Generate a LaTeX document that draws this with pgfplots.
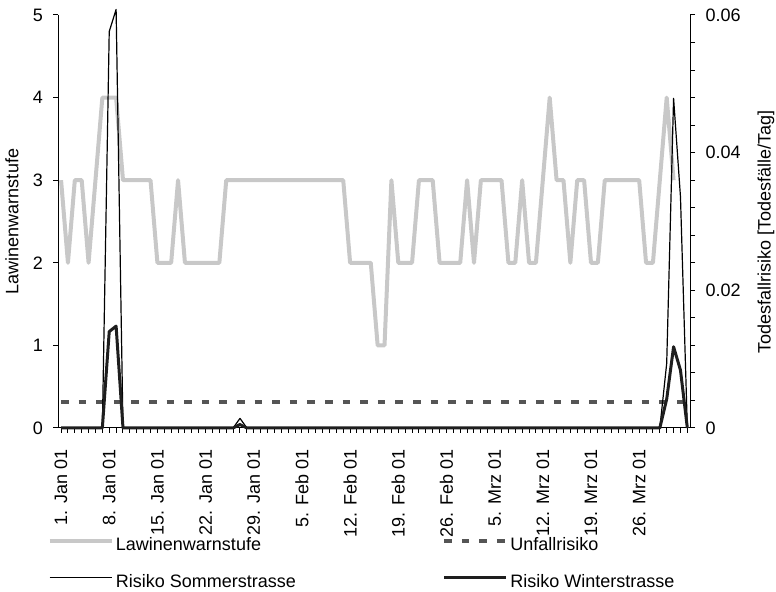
\documentclass[border=0pt]{standalone}
\usepackage{fontspec}
\setmainfont{Liberation Sans}
\usepackage{pgfplots}
\pgfplotsset{compat=1.18}
\usepackage{pgfplotstable}

\definecolor{lwsgray}{RGB}{200,200,200}
\definecolor{dashgray}{RGB}{85,85,85}
\definecolor{thickblk}{RGB}{30,30,30}

\pgfplotstableread{
i lws
0 3
1 2
2 3
3 3
4 2
5 3
6 4
7 4
8 4
9 3
10 3
11 3
12 3
13 3
14 2
15 2
16 2
17 3
18 2
19 2
20 2
21 2
22 2
23 2
24 3
25 3
26 3
27 3
28 3
29 3
30 3
31 3
32 3
33 3
34 3
35 3
36 3
37 3
38 3
39 3
40 3
41 3
42 2
43 2
44 2
45 2
46 1
47 1
48 3
49 2
50 2
51 2
52 3
53 3
54 3
55 2
56 2
57 2
58 2
59 3
60 2
61 3
62 3
63 3
64 3
65 2
66 2
67 3
68 2
69 2
70 3
71 4
72 3
73 3
74 2
75 3
76 3
77 2
78 2
79 3
80 3
81 3
82 3
83 3
84 3
85 2
86 2
87 3
88 4
89 3
}\lwsdata

\pgfplotstableread{
i sommer winter
0 0 0
1 0 0
2 0 0
3 0 0
4 0 0
5 0 0
6 0 0
7 0.0576 0.0140
8 0.0608 0.0148
9 0 0
10 0 0
11 0 0
12 0 0
13 0 0
14 0 0
15 0 0
16 0 0
17 0 0
18 0 0
19 0 0
20 0 0
21 0 0
22 0 0
23 0 0
24 0 0
25 0 0
26 0.0014 0.0005
27 0 0
28 0 0
29 0 0
30 0 0
31 0 0
32 0 0
33 0 0
34 0 0
35 0 0
36 0 0
37 0 0
38 0 0
39 0 0
40 0 0
41 0 0
42 0 0
43 0 0
44 0 0
45 0 0
46 0 0
47 0 0
48 0 0
49 0 0
50 0 0
51 0 0
52 0 0
53 0 0
54 0 0
55 0 0
56 0 0
57 0 0
58 0 0
59 0 0
60 0 0
61 0 0
62 0 0
63 0 0
64 0 0
65 0 0
66 0 0
67 0 0
68 0 0
69 0 0
70 0 0
71 0 0
72 0 0
73 0 0
74 0 0
75 0 0
76 0 0
77 0 0
78 0 0
79 0 0
80 0 0
81 0 0
82 0 0
83 0 0
84 0 0
85 0 0
86 0 0
87 0 0
88 0.0094 0.0042
89 0.0479 0.0118
90 0.0336 0.0084
91 0 0
}\riskdata

\pgfplotsset{
  myaxis/.style={
    scale only axis, width=315.9pt, height=206.5pt,
    at={(0,0)}, anchor=south west,
    xmin=-0.4, xmax=91.4,
    font=\fontsize{9}{10.8}\selectfont,
    /pgf/number format/assume math mode=true,
    axis line style={black, line width=0.5pt},
    tick style={black, line width=0.5pt},
    major tick length=2.5pt, minor tick length=2.5pt,
    tick align=outside,
    scaled ticks=false,
    clip=false,
  }
}

\begin{document}
\begin{tikzpicture}
\begin{axis}[
  myaxis,
  ymin=0, ymax=5,
  axis x line*=bottom, axis y line*=left,
  xtick={0,7,14,21,28,35,42,49,56,63,70,77,84},
  xticklabels={1. Jan 01, 8. Jan 01, 15. Jan 01, 22. Jan 01, 29. Jan 01, 5. Feb 01, 12. Feb 01, 19. Feb 01, 26. Feb 01, 5. Mrz 01, 12. Mrz 01, 19. Mrz 01, 26. Mrz 01},
  minor xtick={0,1,...,91},
  x tick label style={rotate=90, anchor=east, inner xsep=8pt, font=\fontsize{9}{10.8}\selectfont},
  ytick={0,1,2,3,4,5},
  yticklabels={0,1,2,3,4,5},
  y tick label style={inner xsep=5pt},
  ylabel={Lawinenwarnstufe},
  ylabel style={at={(axis description cs:-0.0733,0.5)}, anchor=center},
]
\addplot[lwsgray, line width=2pt, line join=round] table[x=i,y=lws]{\lwsdata};
\end{axis}
\begin{axis}[
  myaxis,
  ymin=0, ymax=0.06,
  axis x line=none, axis y line*=right,
  ytick={0,0.02,0.04,0.06},
  yticklabels={0,0.02,0.04,0.06},
  minor y tick num=4,
  y tick label style={inner xsep=5pt},
  ylabel={Todesfallrisiko [Todesfälle/Tag]},
  ylabel style={at={(axis description cs:1.12,0.475)}, anchor=center},
  legend columns=2,
  legend cell align=left,
  legend image code/.code={\draw[#1] (0pt,2.2pt) -- (31pt,2.2pt);},
  legend style={at={(axis description cs:-0.017,-0.263)}, anchor=north west,
    draw=none, fill=none, inner sep=0pt, outer sep=0pt,
    font=\fontsize{9}{10.8}\selectfont,
    row sep=9.3pt,
    nodes={inner xsep=1.2pt, inner ysep=0pt, text height=7pt, text depth=2pt},
    /tikz/every even column/.append style={column sep=72pt}},
]
\addlegendimage{lwsgray, line width=2pt}
\addlegendentry{Lawinenwarnstufe}
\addplot[dashgray, line width=1.8pt, dash pattern=on 3.8pt off 5pt] coordinates {(0,0.0038) (91,0.0038)};
\addlegendentry{Unfallrisiko}
\addplot[black, line width=0.6pt, line join=round] table[x=i,y=sommer]{\riskdata};
\addlegendentry{Risiko Sommerstrasse}
\addplot[thickblk, line width=1.5pt, line join=round] table[x=i,y=winter]{\riskdata};
\addlegendentry{Risiko Winterstrasse}
\end{axis}
\pgfresetboundingbox
\path[use as bounding box] (-29.15pt,-82pt) rectangle (358.85pt,214pt);
\end{tikzpicture}
\end{document}
